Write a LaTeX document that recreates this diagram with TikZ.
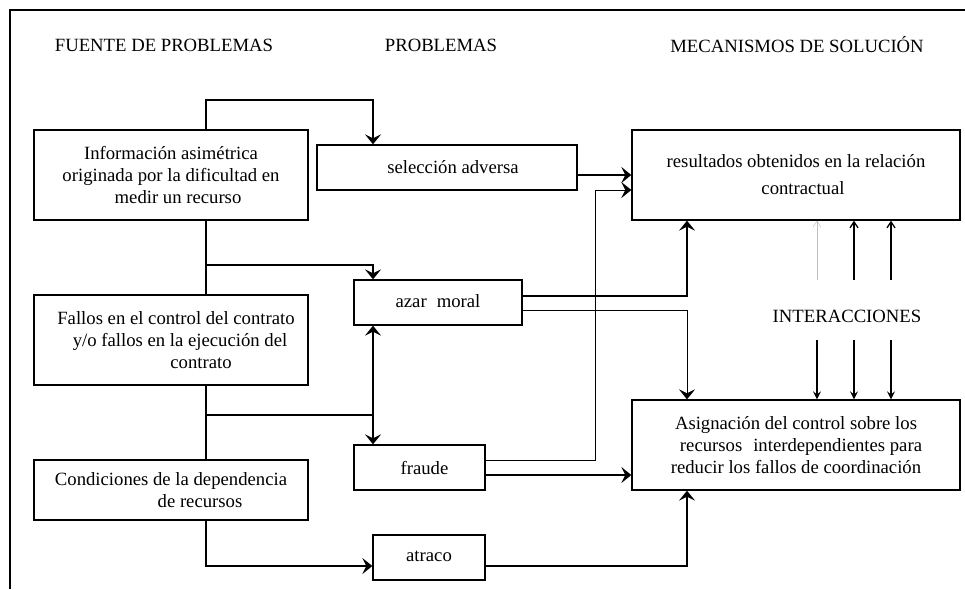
\documentclass[tikz,border=0pt]{standalone}
\usepackage{fontspec}
\setmainfont{Liberation Serif}
\usetikzlibrary{arrows.meta}
\begin{document}
\begin{tikzpicture}[x=1pt,y=-1pt,
  every node/.style={font=\fontsize{18.7}{22}\selectfont},
  box/.style={draw,line width=1.3pt,rectangle,inner sep=0pt,align=center},
  head/.style={inner sep=0pt},
  conn/.style={line width=1.3pt},
  thinconn/.style={line width=0.7pt},
  arr/.style={-{Stealth[length=10pt,width=16pt,inset=4pt]}},
  downarr/.style={line width=1.3pt,-{Stealth[length=8pt,width=8pt,inset=3pt]}},
  uparr/.style={line width=1.3pt,-{Straight Barb[length=6pt,width=8pt]}}]
\useasboundingbox (0,0) rectangle (965,589);

% outer frame (top and left edges)
\draw[line width=1.3pt] (10,589) -- (10,10) -- (965,10);

% column headings
\node[head] (h1) at (164,45) {FUENTE DE PROBLEMAS};
\node[head] (h2) at (441,45) {PROBLEMAS};
\node[head] (h3) at (797,45) {MECANISMOS DE SOLUCIÓN};

% sources of problems
\node[box,minimum width=274pt,minimum height=90pt] (info) at (171,175)
  {Información asimétrica\\originada por la dificultad en\\\hspace*{14pt}medir un recurso};
\node[box,minimum width=274pt,minimum height=90pt] (fallos) at (171,340)
  {\hspace*{10pt}Fallos en el control del contrato\\\hspace*{18pt}y/o fallos en la ejecución del\\\hspace*{60pt}contrato};
\node[box,minimum width=274pt,minimum height=60pt] (cond) at (171,490)
  {Condiciones de la dependencia\\\hspace*{58pt}de recursos};

% problems
\node[box,minimum width=260pt,minimum height=45pt] (sel) at (447,167.5) {\hspace*{12pt}selección adversa};
\node[box,minimum width=168pt,minimum height=45pt] (azar) at (438,302.5) {\raisebox{2pt}{azar\hspace{10pt}moral}};
\node[box,minimum width=131pt,minimum height=45pt] (fraude) at (419.5,467.5) {\hspace*{10pt}fraude};
\node[box,minimum width=112pt,minimum height=45pt] (atraco) at (429,557.5) {\raisebox{2pt}{atraco}};

% solution mechanisms
\node[box,minimum width=328pt,minimum height=90pt] (result) at (796,175)
  {resultados obtenidos en la relación\\[5pt]\hspace*{14pt}contractual};
\node[box,minimum width=328pt,minimum height=90pt] (asign) at (796,445)
  {Asignación del control sobre los\\\hspace*{10pt}recursos\hspace{11pt}interdependientes para\\reducir los fallos de coordinación};

\node[head] (inter) at (847,316) {INTERACCIONES};

% routing points
\coordinate (trunk) at (206,100);
\coordinate (colA) at (373,100);
\coordinate (b1) at (206,265);
\coordinate (b2) at (206,415);
\coordinate (hub) at (373,415);
\coordinate (rowC) at (0,566);
\coordinate (rowS) at (0,175);
\coordinate (rowF) at (595,460);
\coordinate (kneeF) at (595,190);
\coordinate (rowAz) at (0,296);
\coordinate (rowAz2) at (0,310);
\coordinate (rowFr) at (0,475);
\coordinate (colR) at (687,0);

% trunk of the source column
\draw[conn,arr] (info.north -| trunk) -- (trunk) -- (colA) -- (sel.north -| colA);
\draw[conn] (info.south -| trunk) -- (fallos.north -| trunk);
\draw[conn] (fallos.south -| trunk) -- (cond.north -| trunk);
\draw[conn,arr] (b1) -| (azar.north -| colA);
\draw[conn] (b2) -- (hub);
\draw[conn,arr] (hub) -- (azar.south -| hub);
\draw[conn,arr] (hub) -- (fraude.north -| hub);
\draw[conn,arr] (cond.south -| trunk) |- (atraco.west |- rowC);

% problems towards mechanisms
\draw[conn,arr] (sel.east |- rowS) -- (result.west |- rowS);
\draw[thinconn,arr] (fraude.east |- rowF) -- (rowF) -- (kneeF) -- (result.west |- kneeF);
\draw[conn,arr] (azar.east |- rowAz) -| (result.south -| colR);
\draw[thinconn,arr] (azar.east |- rowAz2) -| (asign.north -| colR);
\draw[conn,arr] (fraude.east |- rowFr) -- (asign.west |- rowFr);
\draw[conn,arr] (atraco.east |- rowC) -| (asign.south -| colR);

% interactions
\coordinate (i1) at (817,340);
\coordinate (i2) at (854,340);
\coordinate (i3) at (891,340);
\coordinate (u1) at (817,280);
\coordinate (u2) at (854,280);
\coordinate (u3) at (891,280);
\draw[downarr] (i1) -- (asign.north -| i1);
\draw[downarr] (i2) -- (asign.north -| i2);
\draw[downarr] (i3) -- (asign.north -| i3);
\draw[uparr,line width=0.5pt,draw=black!25] (u1) -- (result.south -| u1);
\draw[uparr] (u2) -- (result.south -| u2);
\draw[uparr] (u3) -- (result.south -| u3);
\end{tikzpicture}
\end{document}
